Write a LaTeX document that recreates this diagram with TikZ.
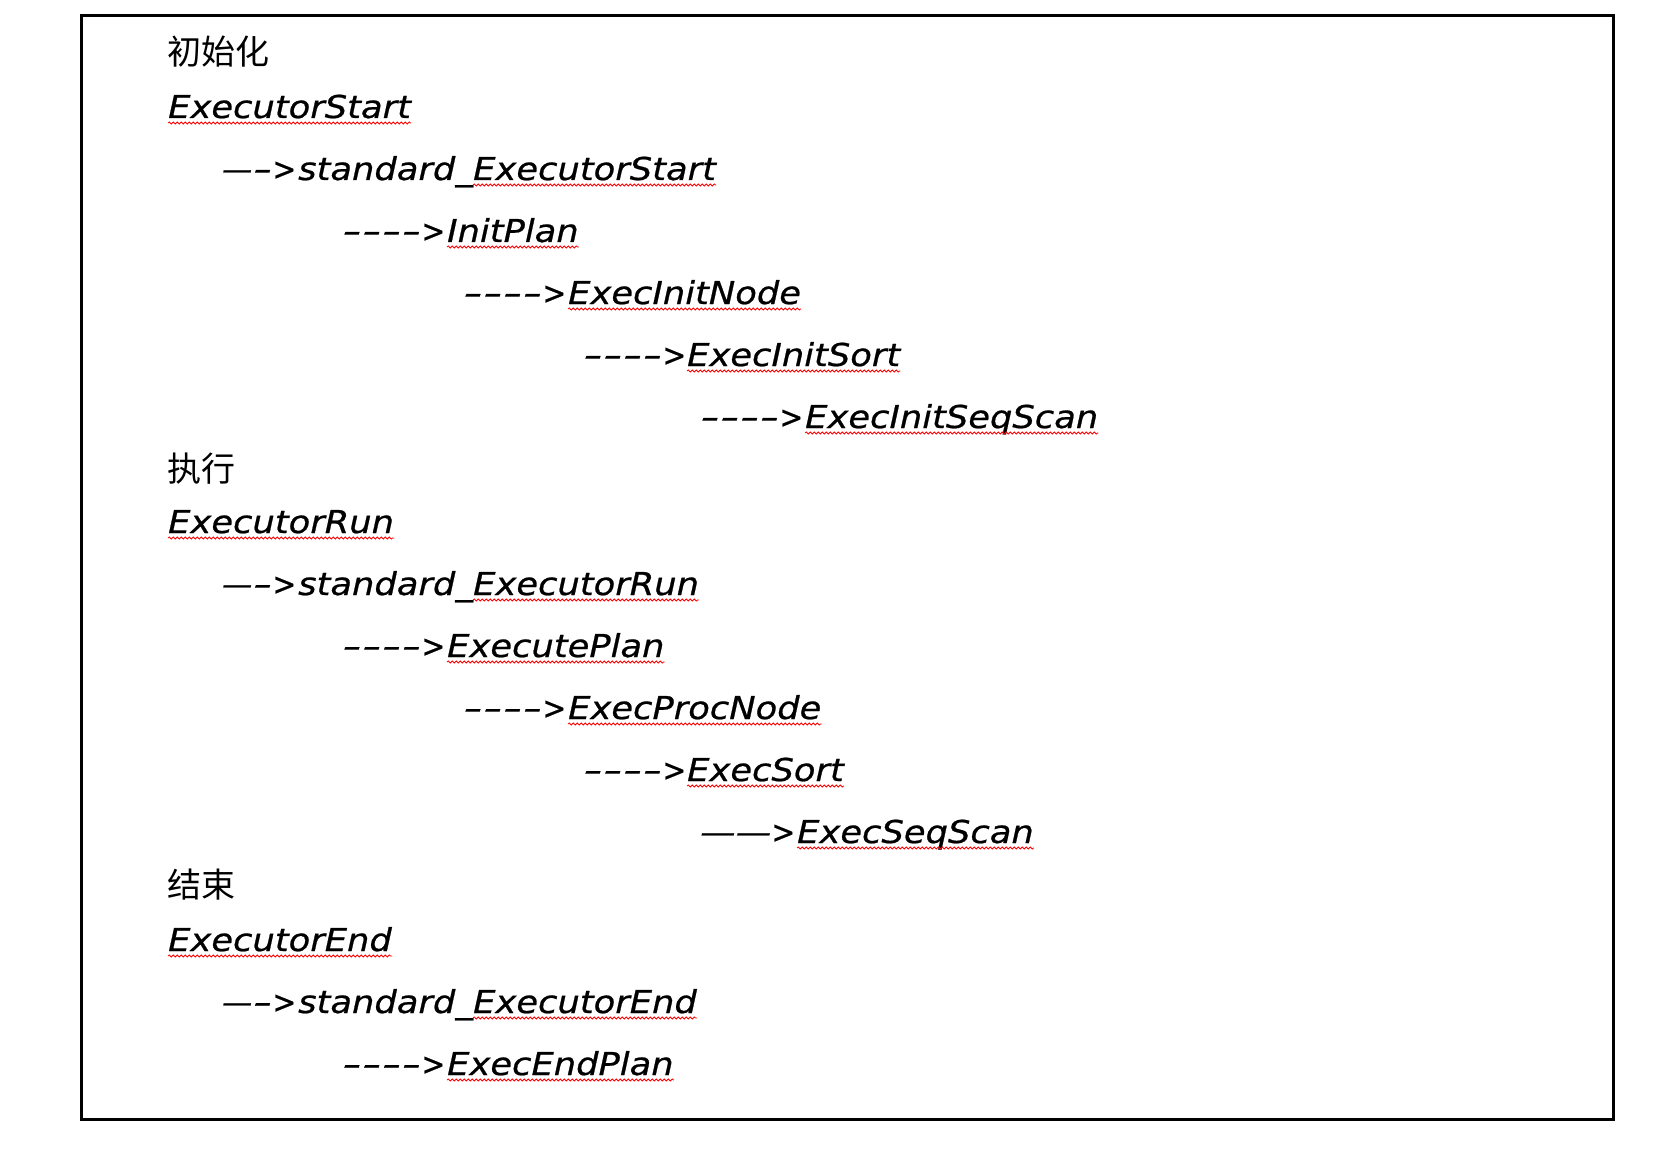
\documentclass[tikz,border=0pt]{standalone}
\usepackage{fontspec}
\usepackage{graphicx}
\usetikzlibrary{decorations.pathmorphing}
\newfontfamily\enf{DejaVu Sans Oblique}[FakeStretch=1.12, FakeBold=0.7]
\newfontfamily\cjk{Noto Sans CJK SC}
\newcommand\hy{\scalebox{1.5}[1]{-}}
\newcommand\ld{\scalebox{0.85}[1]{\symbol{"2014}}}
\newcommand\Ld{\symbol{"2014}}
\newcommand\arrhd{\scalebox{0.8}[1]{>}}
\newcommand\pfour{\makebox[103pt][s]{\hy\hfill\hy\hfill\hy\hfill\hy\hfill\arrhd}}
\newcommand\pone{\makebox[74pt][s]{\ld\hfill\hy\hfill\arrhd}}
\newcommand\ptwo{\makebox[95pt][s]{\Ld\hfill\Ld\hfill\arrhd}}
\newcommand\sq[1]{\draw[squig] ([yshift=-5pt]#1.base west) -- ([yshift=-5pt]#1.base east);}
\tikzset{
  en/.style={anchor=base west, inner sep=0pt, font=\enf\fontsize{31.5}{36}\selectfont},
  cn/.style={anchor=west, inner sep=0pt, font=\cjk\fontsize{34}{38}\selectfont},
  squig/.style={draw=red, line width=0.8pt, decorate, decoration={snake, segment length=4pt, amplitude=1pt}},
  frame/.style={draw, line width=3pt}
}
\begin{document}
\begin{tikzpicture}[x=1pt,y=-1pt]
\useasboundingbox (0,0) rectangle (1660,1169);
\draw[frame] (81.5,16) rectangle (1613,1119);

% group 1
\node[cn] (h1) at (167,52) {初始化};
\node[en] (a0) at (168,118) {ExecutorStart};
\node[en] (a1d) at (222,180) {\pone};
\node[en] (a1s) at (298,180) {standard\_};
\node[en] (a1) at (473,180) {ExecutorStart};
\node[en] (a2d) at (342,242) {\pfour};
\node[en] (a2) at (447,242) {InitPlan};
\node[en] (a3d) at (463,304) {\pfour};
\node[en] (a3) at (568,304) {ExecInitNode};
\node[en] (a4d) at (583,366) {\pfour};
\node[en] (a4) at (687,366) {ExecInitSort};
\node[en] (a5d) at (700,428) {\pfour};
\node[en] (a5) at (805,428) {ExecInitSeqScan};

% group 2
\node[cn] (h2) at (167,469) {执行};
\node[en] (b0) at (168,533) {ExecutorRun};
\node[en] (b1d) at (222,595) {\pone};
\node[en] (b1s) at (298,595) {standard\_};
\node[en] (b1) at (473,595) {ExecutorRun};
\node[en] (b2d) at (342,657) {\pfour};
\node[en] (b2) at (447,657) {ExecutePlan};
\node[en] (b3d) at (463,719) {\pfour};
\node[en] (b3) at (568,719) {ExecProcNode};
\node[en] (b4d) at (583,781) {\pfour};
\node[en] (b4) at (687,781) {ExecSort};
\node[en] (b5d) at (700,843) {\ptwo};
\node[en] (b5) at (797,843) {ExecSeqScan};

% group 3
\node[cn] (h3) at (167,885) {结束};
\node[en] (c0) at (168,951) {ExecutorEnd};
\node[en] (c1d) at (222,1013) {\pone};
\node[en] (c1s) at (298,1013) {standard\_};
\node[en] (c1) at (473,1013) {ExecutorEnd};
\node[en] (c2d) at (342,1075) {\pfour};
\node[en] (c2) at (447,1075) {ExecEndPlan};

% spell-check squiggles
\sq{a0}\sq{a1}\sq{a2}\sq{a3}\sq{a4}\sq{a5}
\sq{b0}\sq{b1}\sq{b2}\sq{b3}\sq{b4}\sq{b5}
\sq{c0}\sq{c1}\sq{c2}
\end{tikzpicture}
\end{document}
